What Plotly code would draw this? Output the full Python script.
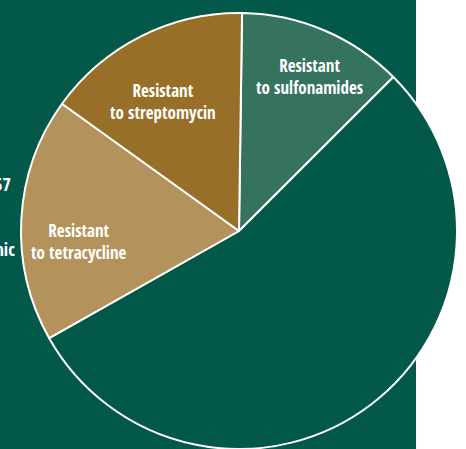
import plotly.graph_objects as go

W, H = 466, 449

# data
labels = ["Resistant<br>to sulfonamides", "Other", "Resistant<br>to tetracycline", "Resistant<br>to streptomycin"]
values = [12.3, 54.3, 18.1, 15.3]
colors = ["#35735f", "#02594a", "#b3925c", "#976f28"]
side_texts = ["O157", "pathogenic"]

# label placement (pixels)
label_pos = {0: (309, 76), 2: (79, 241), 3: (163, 102)}
side_pos = [(13, 184), (17, 249)]

FONT = "Open Sans Condensed, Liberation Sans Narrow, DejaVu Sans Condensed, sans-serif"

cx, cy, r = 239, 231, 218

fig = go.Figure(go.Pie(
    labels=labels,
    values=values,
    sort=False,
    direction="clockwise",
    rotation=0.8,
    marker=dict(colors=colors, line=dict(color="white", width=2)),
    textinfo="none",
    hoverinfo="label+percent",
    showlegend=False,
    domain=dict(x=[(cx - r) / W, (cx + r) / W], y=[1 - (cy + r) / H, 1 - (cy - r) / H]),
))

annotations = []
for i, (px, py) in label_pos.items():
    annotations.append(dict(
        x=px / W, y=1 - py / H, xref="paper", yref="paper",
        text="<b>" + labels[i] + "</b>", showarrow=False,
        xanchor="center", yanchor="middle", align="center",
        font=dict(family=FONT, size=17, color="white"),
    ))
for t, (px, py) in zip(side_texts, side_pos):
    annotations.append(dict(
        x=px / W, y=1 - py / H, xref="paper", yref="paper",
        text="<b>" + t + "</b>", showarrow=False,
        xanchor="right", yanchor="middle", align="right",
        font=dict(family=FONT, size=18, color="white"),
    ))

fig.update_layout(
    width=W, height=H,
    margin=dict(l=0, r=0, t=0, b=0),
    paper_bgcolor="white",
    plot_bgcolor="white",
    shapes=[dict(type="rect", xref="paper", yref="paper", x0=0, x1=416 / W, y0=0, y1=1,
                 fillcolor="#02594a", line=dict(width=0), layer="below")],
    annotations=annotations,
)

fig.write_html("out.html", config={"displayModeBar": False},
               post_script="document.body.style.margin='0';")
